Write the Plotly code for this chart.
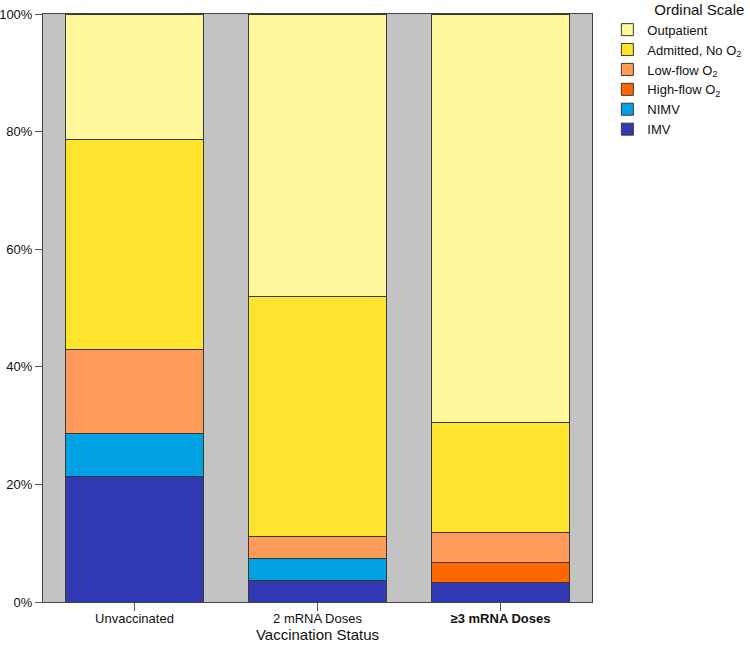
import plotly.graph_objects as go

categories = ["Unvaccinated", "2 mRNA Doses", "<b>≥3 mRNA Doses</b>"]
series_names = ["IMV", "NIMV", "High-flow O<sub>2</sub>", "Low-flow O<sub>2</sub>", "Admitted, No O<sub>2</sub>", "Outpatient"]
imv = [21.4, 3.7, 3.4]
nimv = [7.2, 3.7, 0.0]
high_flow = [0.0, 0.0, 3.4]
low_flow = [14.3, 3.7, 5.1]
admitted = [35.7, 40.8, 18.6]
outpatient = [21.4, 48.1, 69.5]
series_values = [imv, nimv, high_flow, low_flow, admitted, outpatient]
colors = ["#3039B2", "#00A2E4", "#FF6600", "#FF9A5A", "#FFE42E", "#FFF79C"]
y_ticks = [0, 20, 40, 60, 80, 100]
y_tick_labels = ["0%", "20%", "40%", "60%", "80%", "100%"]

fig = go.Figure()
for name, vals, col in zip(series_names, series_values, colors):
    fig.add_trace(go.Bar(
        x=categories, y=vals, name=name,
        marker=dict(color=col, line=dict(color="#3a3a30", width=1)),
        width=0.75,
    ))

font_family = "Liberation Sans, Arial, sans-serif"
fig.update_layout(
    barmode="stack",
    width=750, height=646,
    margin=dict(l=43, r=158, t=14, b=44, autoexpand=False),
    paper_bgcolor="white",
    plot_bgcolor="#C3C3C3",
    font=dict(family=font_family, size=13, color="#111"),
    legend=dict(
        title=dict(text="Ordinal Scale", font=dict(size=15), side="top right"),
        traceorder="reversed",
        x=1.028, xanchor="left", y=1.032, yanchor="top",
        font=dict(size=13), itemwidth=30, tracegroupgap=0,
        bgcolor="rgba(0,0,0,0)",
    ),
    xaxis=dict(
        title=dict(text="Vaccination Status", font=dict(size=15), standoff=3),
        showline=True, linecolor="#444", linewidth=1, mirror=True,
        ticks="outside", ticklen=8, tickcolor="#555",
        ticklabelstandoff=-4,
        showgrid=False, tickfont=dict(size=13),
    ),
    yaxis=dict(
        range=[0, 100], tickvals=y_ticks, ticktext=y_tick_labels,
        showline=True, linecolor="#444", linewidth=1, mirror=True,
        ticks="outside", ticklen=7, tickcolor="#555",
        showgrid=False, zeroline=False, tickfont=dict(size=13),
    ),
)

fig.write_html(
    "out.html",
    config={"displayModeBar": False},
    post_script="document.body.style.margin='0';document.body.style.padding='0';",
)
